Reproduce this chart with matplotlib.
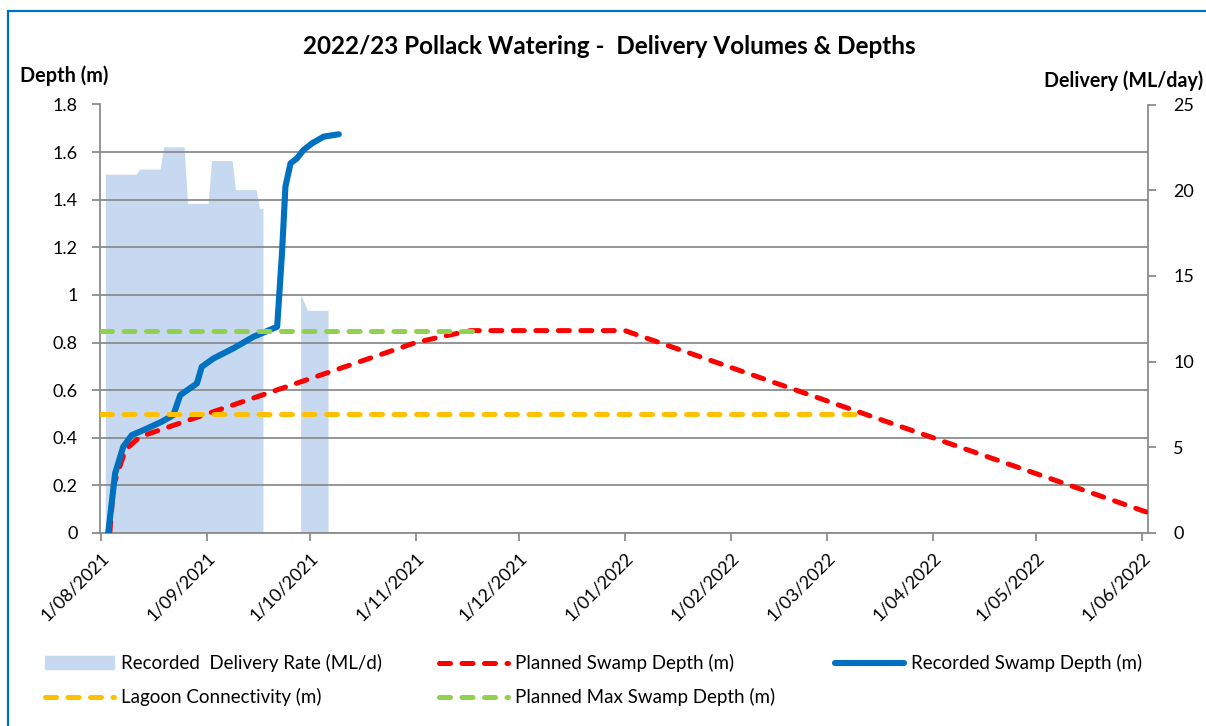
import numpy as np
import pandas as pd
import matplotlib
matplotlib.use('Agg')
import matplotlib.pyplot as plt
import matplotlib.dates as mdates
import matplotlib.patches as mpatches
from matplotlib.lines import Line2D
from matplotlib.ticker import FuncFormatter

plt.rcParams['font.family'] = ['Lato', 'DejaVu Sans']

# ── data ─────────────────────────────────────────────────────────────────────
# recorded delivery rate (ML/day), vertices of the area; NaN splits the two runs
delivery_dates = ['2021-08-02 12:00', '2021-08-11 12:00', '2021-08-12 12:00',
                  '2021-08-18 12:00', '2021-08-19 12:00', '2021-08-25 12:00',
                  '2021-08-26 12:00', '2021-09-01 12:00', '2021-09-02 12:00',
                  '2021-09-08 12:00', '2021-09-09 12:00', '2021-09-15 12:00',
                  '2021-09-16 12:00', '2021-09-17 12:00', '2021-09-23 00:00',
                  '2021-09-28 12:00', '2021-09-30 12:00', '2021-10-06 12:00']
delivery_rate = [20.9, 20.9, 21.2, 21.2, 22.5, 22.5, 19.2, 19.2, 21.7, 21.7,
                 20.0, 20.0, 18.9, 18.9, np.nan, 13.9, 12.96, 12.96]

# recorded swamp depth (m)
rec_dates = ['2021-08-03 05:00', '2021-08-05 05:00', '2021-08-07 14:00',
             '2021-08-10 02:00', '2021-08-13 12:00', '2021-08-18 19:00',
             '2021-08-22 05:00', '2021-08-24 05:00', '2021-08-29 02:00',
             '2021-08-30 12:00', '2021-09-02 22:00', '2021-09-08 19:00',
             '2021-09-14 14:00', '2021-09-20 12:00', '2021-09-21 12:00',
             '2021-09-22 22:00', '2021-09-23 22:00', '2021-09-25 10:00',
             '2021-09-27 07:00', '2021-09-29 05:00', '2021-10-01 17:00',
             '2021-10-05 02:00', '2021-10-09 12:00']
rec_depth = [0.0, 0.25, 0.362, 0.411, 0.432, 0.467, 0.495, 0.579, 0.628,
             0.698, 0.733, 0.776, 0.824, 0.86, 0.866, 1.175, 1.455, 1.553,
             1.574, 1.609, 1.637, 1.665, 1.675]

# planned swamp depth (m)
plan_dates = ['2021-08-03 16:00', '2021-08-04 18:00', '2021-08-08 06:00',
              '2021-08-12 12:00', '2021-11-01 00:00', '2021-11-09 00:00',
              '2021-11-17 00:00', '2022-01-01 00:00', '2022-06-02 18:00']
plan_depth = [0.0, 0.2, 0.35, 0.404, 0.80, 0.826, 0.85, 0.85, 0.085]

lagoon_dates = ['2021-08-01 00:00', '2022-03-12 00:00']
lagoon_depth = [0.5, 0.5]

maxdepth_dates = ['2021-08-01 00:00', '2021-11-18 18:00']
maxdepth_depth = [0.85, 0.85]

BAR_C = '#C6D9F0'
BLUE = '#0070C0'
RED = '#FF0000'
ORANGE = '#FFC000'
GREEN = '#92D050'
GRID = '#8C8C8C'


def to_dt(s):
    return pd.to_datetime(s, format='%Y-%m-%d %H:%M')


fig = plt.figure(figsize=(12.06, 7.26), dpi=100)
ax = fig.add_axes([100 / 1206, 1 - 532.9 / 726, 1048.3 / 1206, 428.4 / 726])
ax2 = ax.twinx()
ax.set_zorder(ax2.get_zorder() + 1)
ax.patch.set_visible(False)

# delivery area on the right axis
ax2.fill_between(to_dt(delivery_dates), 0, delivery_rate, color=BAR_C, linewidth=0)

dash = dict(linestyle=(0, (2.2, 2.3)), dash_capstyle='round', linewidth=3.6)
ax.plot(to_dt(plan_dates), plan_depth, color=RED, zorder=3, **dash)
ax.plot(to_dt(rec_dates), rec_depth, color=BLUE, linewidth=4.4,
        solid_capstyle='round', solid_joinstyle='round', zorder=4)
ax.plot(to_dt(lagoon_dates), lagoon_depth, color=ORANGE, zorder=5, **dash)
ax.plot(to_dt(maxdepth_dates), maxdepth_depth, color=GREEN, zorder=6, **dash)

# axes ranges
x0 = mdates.date2num(pd.Timestamp('2021-08-01')) - 0.2
x1 = mdates.date2num(pd.Timestamp('2022-06-01')) + 1.75
ax.set_xlim(x0, x1)
ax.set_ylim(0, 1.8)
ax2.set_ylim(0, 25)

ax.set_yticks(np.arange(0, 1.81, 0.2))
ax.yaxis.set_major_formatter(FuncFormatter(
    lambda v, p: (f'{v:.1f}'.rstrip('0').rstrip('.')) if abs(v) > 1e-9 else '0'))
ax2.set_yticks(range(0, 26, 5))


def date_fmt(v, p):
    d = mdates.num2date(v)
    return f'{d.day}/{d.month:02d}/{d.year}'


ax.xaxis.set_major_locator(mdates.MonthLocator())
ax.xaxis.set_major_formatter(FuncFormatter(date_fmt))
for lbl in ax.get_xticklabels():
    lbl.set_rotation(45)
    lbl.set_ha('right')
    lbl.set_va('top')
    lbl.set_rotation_mode('anchor')

ax.grid(axis='y', color=GRID, linewidth=1.3)
ax.set_axisbelow(True)

for a in (ax, ax2):
    for s in a.spines.values():
        s.set_color(GRID)
        s.set_linewidth(1.3)
    a.spines['top'].set_visible(False)
ax.spines['right'].set_visible(False)
ax2.spines['left'].set_visible(False)
ax2.spines['bottom'].set_visible(False)

ax.tick_params(axis='y', direction='out', length=6, width=1.3, color=GRID,
               labelsize=13, pad=10)
ax.tick_params(axis='x', direction='out', length=6, width=1.3, color=GRID,
               labelsize=13, pad=6)
ax2.tick_params(axis='y', direction='out', length=6, width=1.3, color=GRID,
                labelsize=13, pad=12)

# texts
fig.text(609.5 / 1206, 1 - 47 / 726, '2022/23 Pollack Watering -  Delivery Volumes & Depths',
         ha='center', va='center', fontsize=17.5, fontweight='bold')
fig.text(20 / 1206, 1 - 82 / 726, 'Depth (m)', ha='left', va='baseline',
         fontsize=14.3, fontweight='bold')
fig.text(1203 / 1206, 1 - 87 / 726, 'Delivery (ML/day)', ha='right', va='baseline',
         fontsize=14.1, fontweight='bold')

# legend, three column groups
h_del = mpatches.Patch(color=BAR_C, label='Recorded  Delivery Rate (ML/d)')
h_lag = Line2D([], [], color=ORANGE, label='Lagoon Connectivity (m)', **dash)
h_plan = Line2D([], [], color=RED, label='Planned Swamp Depth (m)', **dash)
h_max = Line2D([], [], color=GREEN, label='Planned Max Swamp Depth (m)', **dash)
h_rec = Line2D([], [], color=BLUE, linewidth=4.4, solid_capstyle='round',
               label='Recorded Swamp Depth (m)')
leg_kw = dict(loc='upper left', frameon=False, fontsize=13.5, borderpad=0,
              borderaxespad=0, handlelength=3.7, handletextpad=0.35,
              labelspacing=0.85)
for handles, xpix in (([h_del, h_lag], 45), ([h_plan, h_max], 439), ([h_rec], 835)):
    fig.legend(handles=handles, bbox_to_anchor=(xpix / 1206, 1 - 654 / 726), **leg_kw)

# outer chart frame
fig.add_artist(mpatches.Rectangle((8 / 1206, -0.05), 1.1, 1 - 11 / 726 + 0.05,
                                  transform=fig.transFigure, fill=False,
                                  edgecolor=BLUE, linewidth=1.6))

fig.savefig('out.png', dpi=100)
